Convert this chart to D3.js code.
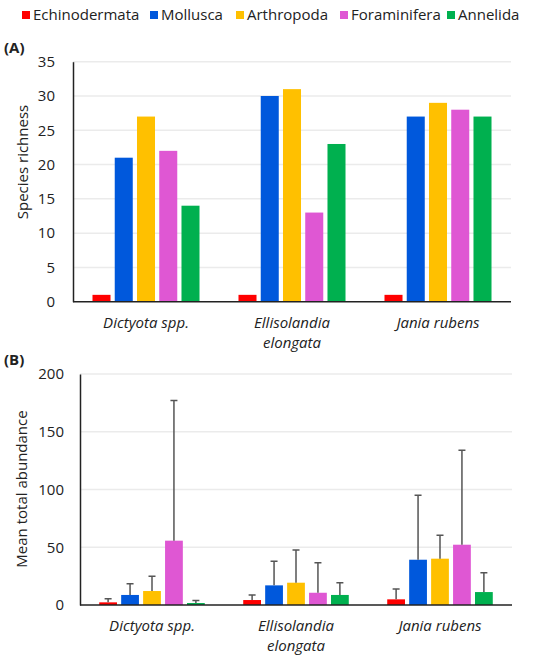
<!DOCTYPE html>
<html>
<head>
<meta charset="utf-8">
<script src="https://cdn.jsdelivr.net/npm/d3@7"></script>
<style>
  body { margin: 0; background: #fff; }
  svg { font-family: "Open Sans", sans-serif; }
</style>
</head>
<body>
<svg width="550" height="660"></svg>
<script>
var phyla = ["Echinodermata", "Mollusca", "Arthropoda", "Foraminifera", "Annelida"];
var colors = ["#ff0000", "#0058dc", "#ffc000", "#df57d3", "#00b04f"];
var algae = [["Dictyota spp."], ["Ellisolandia", "elongata"], ["Jania rubens"]];

// species richness, one row per alga, in phyla order
var richness = [
    [1, 21, 27, 22, 14],
    [1, 30, 31, 13, 23],
    [1, 27, 29, 28, 27]
];
// mean total abundance and upper end of the error bar
var abundance = [
    [2.3, 8.7, 12.1, 55.7, 1.7],
    [4.3, 17, 19.3, 10.6, 8.7],
    [4.9, 39.2, 40.1, 52.2, 11.2]
];
var abundanceErr = [
    [5.5, 18.4, 24.8, 177, 4],
    [8.7, 37.8, 47.6, 36.6, 19.3],
    [13.9, 95, 60.3, 134, 28]
];
var richTicks = [0, 5, 10, 15, 20, 25, 30, 35];
var abTicks = [0, 50, 100, 150, 200];

var svg = d3.select("svg");

// legend
var legendX = [22, 150, 236, 340, 447];
var legend = svg.selectAll(".legend")
    .data(phyla)
    .enter().append("g")
    .attr("transform", function(d, i) { return "translate(" + legendX[i] + ",15)"; });
legend.append("rect")
    .attr("y", -4).attr("width", 8).attr("height", 8)
    .attr("fill", function(d, i) { return colors[i]; });
legend.append("text")
    .attr("x", 11).attr("dy", "0.35em")
    .attr("font-size", 15).attr("fill", "#222")
    .text(function(d) { return d; });

function panel(opts) {
    var g = svg.append("g");
    var x0 = d3.scaleBand().domain(d3.range(algae.length)).range([opts.left, opts.right]);
    var groupW = x0.bandwidth() * 0.733;
    var x1 = d3.scaleBand().domain(d3.range(phyla.length)).range([0, groupW]).paddingInner(0.19);
    var y = d3.scaleLinear().domain([0, opts.max]).range([opts.bottom, opts.top]);

    // gridlines
    g.selectAll(".grid")
        .data(opts.ticks.slice(1))
        .enter().append("line")
        .attr("x1", opts.left).attr("x2", opts.right)
        .attr("y1", function(d) { return y(d); }).attr("y2", function(d) { return y(d); })
        .attr("stroke", "#ebebeb").attr("stroke-width", 1.5);

    // y axis
    var yAxis = g.append("g")
        .attr("transform", "translate(" + opts.left + ",0)")
        .call(d3.axisLeft(y).tickValues(opts.ticks).tickSize(0).tickPadding(opts.pad));
    yAxis.select(".domain").attr("stroke", "#222").attr("stroke-width", 1.5);
    yAxis.selectAll("text").attr("font-size", 15).attr("fill", "#222")
        .attr("font-family", "Open Sans, sans-serif");

    var groups = g.selectAll(".grp")
        .data(opts.values)
        .enter().append("g")
        .attr("transform", function(d, i) {
            return "translate(" + (x0(i) + (x0.bandwidth() - groupW) / 2) + ",0)";
        });
    groups.selectAll("rect")
        .data(function(d) { return d; })
        .enter().append("rect")
        .attr("x", function(d, i) { return x1(i); })
        .attr("width", x1.bandwidth())
        .attr("y", function(d) { return y(d); })
        .attr("height", function(d) { return opts.bottom - y(d); })
        .attr("fill", function(d, i) { return colors[i]; });

    if (opts.err) {
        var eg = g.selectAll(".errg")
            .data(opts.err)
            .enter().append("g")
            .attr("transform", function(d, i) {
                return "translate(" + (x0(i) + (x0.bandwidth() - groupW) / 2) + ",0)";
            });
        eg.selectAll(".err")
            .data(function(d, gi) { return d.map(function(v, i) { return { v: v, m: opts.values[gi][i], i: i }; }); })
            .enter().append("path")
            .attr("d", function(d) {
                var cx = x1(d.i) + x1.bandwidth() / 2;
                return "M" + cx + "," + y(d.m) + "V" + y(d.v) + "M" + (cx - 3.5) + "," + y(d.v) + "H" + (cx + 3.5);
            })
            .attr("stroke", "#555").attr("stroke-width", 1.5).attr("fill", "none");
    }

    // x axis line
    g.append("line")
        .attr("x1", opts.left).attr("x2", opts.right)
        .attr("y1", opts.bottom).attr("y2", opts.bottom)
        .attr("stroke", "#222").attr("stroke-width", 1.5);

    // category labels
    g.selectAll(".cat")
        .data(algae)
        .enter().append("text")
        .attr("x", function(d, i) { return x0(i) + x0.bandwidth() / 2; })
        .attr("y", opts.bottom + 26)
        .attr("text-anchor", "middle")
        .attr("font-size", 15).attr("font-style", "italic").attr("fill", "#222")
        .selectAll("tspan")
        .data(function(d) { return d; })
        .enter().append("tspan")
        .attr("x", function() { return this.parentNode.getAttribute("x"); })
        .attr("dy", function(d, i) { return i ? 20 : 0; })
        .text(function(d) { return d; });

    // y title
    g.append("text")
        .attr("transform", "translate(" + opts.titleX + "," + opts.titleY + ") rotate(-90)")
        .attr("text-anchor", "middle").attr("dy", "0.35em")
        .attr("font-size", 15).attr("fill", "#222")
        .text(opts.title);

    // panel letter
    g.append("text")
        .attr("x", 4).attr("y", opts.letterY).attr("dy", "0.35em")
        .attr("font-size", 15).attr("font-weight", "bold").attr("fill", "#222")
        .text(opts.letter);
}

panel({ left: 73, right: 511, top: 61.7, bottom: 301.7, max: 35, ticks: richTicks,
        values: richness, title: "Species richness", titleX: 23, titleY: 162,
        letter: "(A)", letterY: 48, pad: 18 });
panel({ left: 80, right: 512, top: 374, bottom: 605, max: 200, ticks: abTicks,
        values: abundance, err: abundanceErr, title: "Mean total abundance", titleX: 22, titleY: 489,
        letter: "(B)", letterY: 360, pad: 16 });
</script>
</body>
</html>
